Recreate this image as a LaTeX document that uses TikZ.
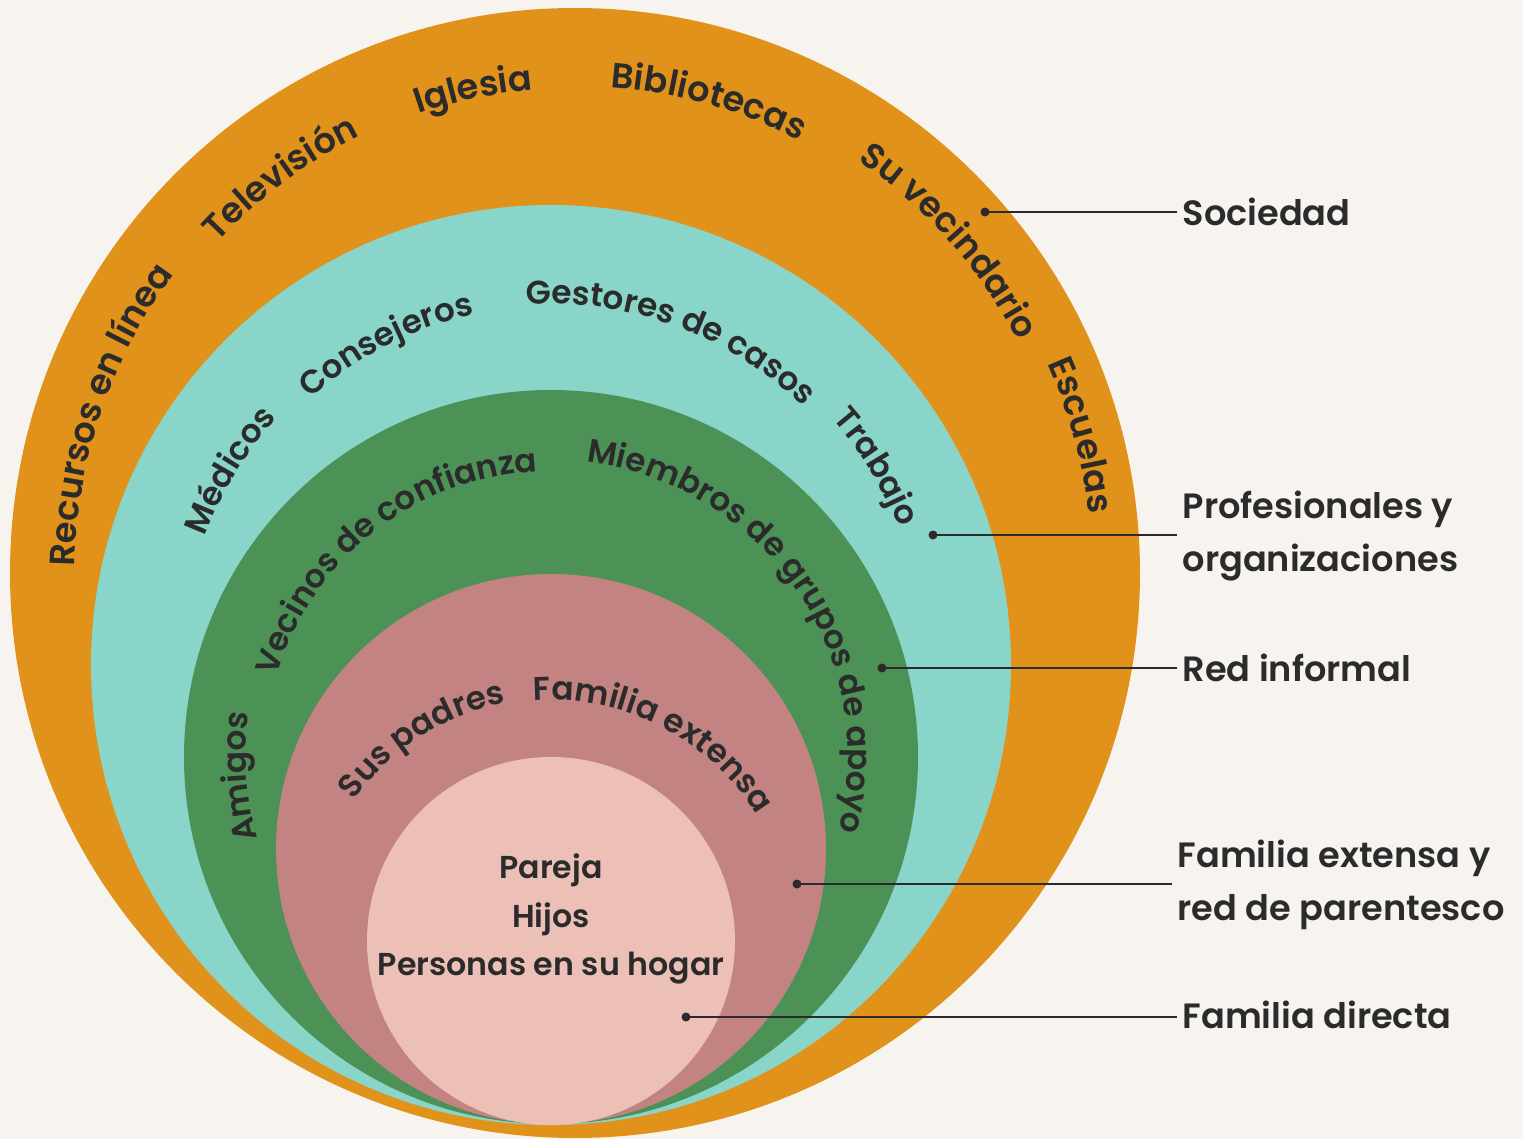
\documentclass[tikz,border=0pt]{standalone}
\usepackage{fontspec}
\newfontfamily\poppins{Poppins SemiBold}
\usetikzlibrary{decorations.text}
\definecolor{Sand}{HTML}{F7F4F0}
\definecolor{Amber}{HTML}{E1921A}
\definecolor{Mint}{HTML}{89D5C9}
\definecolor{Fern}{HTML}{4C9155}
\definecolor{Rosewood}{HTML}{C38383}
\definecolor{Blush}{HTML}{ECC0B7}
\definecolor{Ink}{HTML}{2B2B2B}
\newcommand{\ringfont}{\poppins\fontsize{10}{15}\selectfont}
\newcommand{\innerfont}{\poppins\fontsize{9.3}{14}\selectfont}
% text on a ring: [font] centre, baseline radius, mid angle, text
\newcommand{\ringtext}[5][\ringfont]{%
  \path[decorate,decoration={text along path,text align=center,
        text color=Ink,text={|#1|#5}}]
    (#2) ++(#4+60:#3) arc[start angle=#4+60,end angle=#4-60,radius=#3];}

\begin{document}
\begin{tikzpicture}[
    tag/.style={anchor=west,inner sep=0.05cm,align=left,text=Ink,
                font=\ringfont},
    pin/.style={Ink,line width=0.6pt}]
  \fill[Sand] (0,0) rectangle (15.23,11.39);

  % rings, all touching at the bottom
  \coordinate (O) at (5.75,5.66);
  \coordinate (T) at (5.51,4.74);
  \coordinate (G) at (5.51,3.82);
  \coordinate (R) at (5.51,2.90);
  \coordinate (P) at (5.51,1.98);
  \fill[Amber] (O) circle[radius=5.65];
  \fill[Mint] (T) circle[radius=4.60];
  \fill[Fern] (G) circle[radius=3.67];
  \fill[Rosewood] (R) circle[radius=2.75];
  \fill[Blush] (P) circle[radius=1.84];

  \ringtext{O}{5.00cm}{161.3}{Recursos en línea}
  \ringtext{O}{4.87cm}{126.7}{Televisión}
  \ringtext{O}{4.85cm}{101.9}{Iglesia}
  \ringtext{O}{4.87cm}{74.2}{Bibliotecas}
  \ringtext{O}{5.00cm}{41.6}{Su vecindario}
  \ringtext{O}{5.17cm}{15.2}{Escuelas}

  \ringtext[\innerfont]{T}{3.69cm}{148.8}{Médicos}
  \ringtext[\innerfont]{T}{3.59cm}{117.2}{Consejeros}
  \ringtext[\innerfont]{T}{3.61cm}{69.8}{Gestores de casos}
  \ringtext[\innerfont]{T}{3.74cm}{31.3}{Trabajo}

  \ringtext[\innerfont]{G}{3.05cm}{183.6}{Amigos}
  \ringtext[\innerfont]{G}{2.86cm}{128.2}{Vecinos de confianza}
  \ringtext[\innerfont]{G}{2.97cm}{34.4}{Miembros de grupos de apoyo}

  \ringtext[\innerfont]{P}{2.42cm}{122.6}{Sus padres}
  \ringtext[\innerfont]{P}{2.41cm}{62.8}{Familia extensa}

  \node[align=center,text=Ink,font=\poppins\fontsize{9}{13.7}\selectfont]
    (core) at (5.51,2.20) {Pareja\\Hijos\\Personas en su hogar};

  % labels on the right
  \coordinate (dotSoc) at (9.85,9.27);
  \coordinate (dotPro) at (9.33,6.04);
  \coordinate (dotRed) at (8.82,4.71);
  \coordinate (dotExt) at (7.97,2.55);
  \coordinate (dotDir) at (6.86,1.22);

  \node[tag] (soc) at (11.77,9.27) {Sociedad};
  \node[tag] (pro) at (11.77,6.03) {Profesionales y\\organizaciones};
  \node[tag] (red) at (11.77,4.71) {Red informal};
  \node[tag] (ext) at (11.72,2.54) {Familia extensa y\\red de parentesco};
  \node[tag] (dir) at (11.77,1.24) {Familia directa};

  \foreach \d/\n in {dotSoc/soc,dotPro/pro,dotRed/red,dotExt/ext,dotDir/dir}{
    \fill[Ink] (\d) circle[radius=0.045];
    \draw[pin] (\d) -- (\d -| \n.west);
  }
\end{tikzpicture}
\end{document}
